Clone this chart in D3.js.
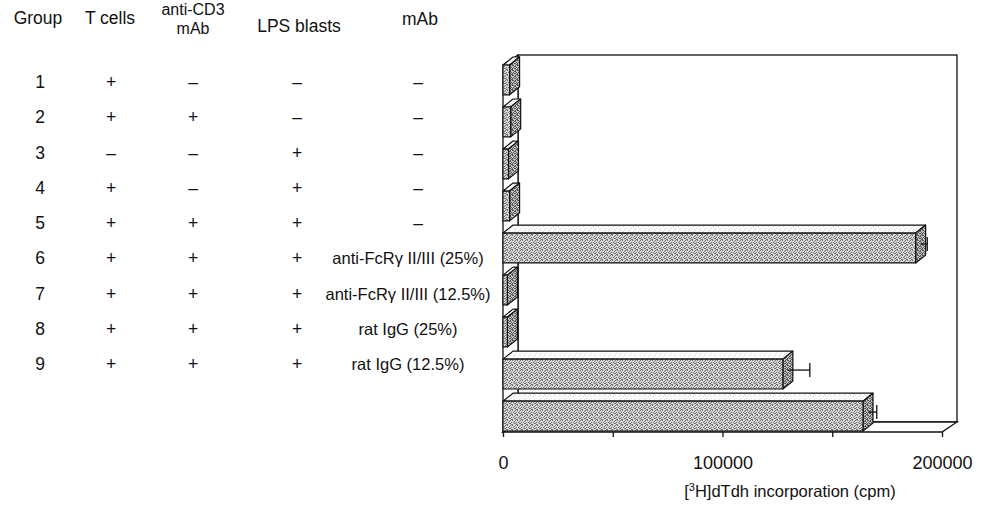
<!DOCTYPE html>
<html>
<head>
<meta charset="utf-8">
<script src="https://cdn.jsdelivr.net/npm/d3@7"></script>
<style>
  body { margin: 0; background: #fff; }
  text { font-family: "Liberation Sans", Arial, sans-serif; fill: #111; }
</style>
</head>
<body>
<div id="chart"></div>
<script>
// table + bar data
var groups    = ["1", "2", "3", "4", "5", "6", "7", "8", "9"];
var tCells    = ["+", "+", "–", "+", "+", "+", "+", "+", "+"];
var antiCD3   = ["–", "+", "–", "–", "+", "+", "+", "+", "+"];
var lpsBlasts = ["–", "–", "+", "+", "+", "+", "+", "+", "+"];
var mAbs      = ["–", "–", "–", "–", "–", "anti-FcRγ II/III (25%)", "anti-FcRγ II/III (12.5%)", "rat IgG (25%)", "rat IgG (12.5%)"];
var cpm       = [3000, 3500, 2500, 3000, 188000, 2000, 2000, 127500, 164000];
var cpmErr    = [0, 0, 0, 0, 3000, 0, 0, 10000, 4000];
var xTicks    = [0, 50000, 100000, 150000, 200000];
var xLabels   = [0, 100000, 200000];

var width = 982, height = 508;

var svg = d3.select("#chart")
  .append("svg")
    .attr("width", width)
    .attr("height", height);

// patterns for the stippled faces (5x5 speckle, irregular)
var defs = svg.append("defs");
function stipple(id, bg, dot, pts) {
  var p = defs.append("pattern").attr("id", id)
      .attr("patternUnits", "userSpaceOnUse").attr("width", 5).attr("height", 5);
  p.append("rect").attr("width", 5).attr("height", 5).attr("fill", bg);
  pts.forEach(function(q) {
    p.append("rect").attr("x", q[0]).attr("y", q[1]).attr("width", 1).attr("height", 1).attr("fill", dot);
  });
}
var speckle = [[0, 0], [2, 0], [4, 1], [1, 2], [3, 2], [0, 3], [4, 3], [2, 4], [1, 4]];
stipple("front", "#d8d8d8", "#707070", speckle);
stipple("side", "#c4c4c4", "#555555", speckle.concat([[3, 0], [0, 1], [2, 3]]));
stipple("top", "#ffffff", "#d4d4d4", [[0, 0], [3, 1], [1, 3], [4, 4]]);

// ---------- left table ----------
var row = d3.scalePoint().domain(groups).range([82, 364]);
var cols = [
  {x: 40,  vals: groups},
  {x: 111, vals: tCells},
  {x: 193, vals: antiCD3},
  {x: 297, vals: lpsBlasts}
];
var fs = "17.5px";

cols.forEach(function(c) {
  svg.append("g").selectAll("text")
    .data(c.vals)
    .enter()
    .append("text")
      .attr("x", c.x)
      .attr("y", function(d, i) { return row(groups[i]) + 6; })
      .attr("text-anchor", "middle")
      .style("font-size", fs)
      .text(function(d) { return d; });
});

svg.append("g").selectAll("text")
  .data(mAbs)
  .enter()
  .append("text")
    .attr("x", function(d) { return d === "–" ? 418 : 408; })
    .attr("y", function(d, i) { return row(groups[i]) + 6; })
    .attr("text-anchor", "middle")
    .style("font-size", function(d) { return d === "–" ? fs : "16.5px"; })
    .text(function(d) { return d; });

// headers
var head = svg.append("g").style("font-size", fs).attr("text-anchor", "middle");
head.append("text").attr("x", 38).attr("y", 24).text("Group");
head.append("text").attr("x", 110).attr("y", 24).text("T cells");
head.append("text").attr("x", 193).attr("y", 15).style("font-size", "16px").text("anti-CD3");
head.append("text").attr("x", 193).attr("y", 34).style("font-size", "16px").text("mAb");
head.append("text").attr("x", 299).attr("y", 32).text("LPS blasts");
head.append("text").attr("x", 420).attr("y", 25).text("mAb");

// ---------- 3D bar chart ----------
var x = d3.scaleLinear().domain([0, 200000]).range([503, 942]);
var y = d3.scaleBand().domain(groups).range([65, 431]).paddingInner(0.29).paddingOuter(0);

var floorY = 432, wallDx = 15, wallDy = -10, topY = 65;
var barDx = 10, barDy = -8;

var frame = svg.append("g")
    .style("fill", "none").style("stroke", "#111").style("stroke-width", 1.3);

// back wall
frame.append("rect")
    .attr("x", x(0) + wallDx).attr("y", topY + wallDy)
    .attr("width", x(200000) - x(0)).attr("height", floorY - topY)
    .style("fill", "#fff");
// left wall
frame.append("path")
    .attr("d", "M" + x(0) + "," + topY + "L" + (x(0) + wallDx) + "," + (topY + wallDy) +
               "L" + (x(0) + wallDx) + "," + (floorY + wallDy) + "L" + x(0) + "," + floorY + "Z")
    .style("fill", "#fff");
// floor
frame.append("path")
    .attr("d", "M" + x(0) + "," + floorY + "L" + x(200000) + "," + floorY +
               "L" + (x(200000) + wallDx) + "," + (floorY + wallDy) +
               "L" + (x(0) + wallDx) + "," + (floorY + wallDy) + "Z")
    .style("fill", "#fff");

// bars
var bars = svg.append("g").selectAll("g")
  .data(groups)
  .enter()
  .append("g")
    .style("stroke", "#111").style("stroke-width", 1.2).style("stroke-linejoin", "round");

bars.append("path")   // top face
    .attr("d", function(d, i) {
      var x0 = x(0), x1 = x(cpm[i]), y0 = y(d);
      return "M" + x0 + "," + y0 + "L" + (x0 + barDx) + "," + (y0 + barDy) +
             "L" + (x1 + barDx) + "," + (y0 + barDy) + "L" + x1 + "," + y0 + "Z";
    })
    .style("fill", "url(#top)");

bars.append("path")   // end face
    .attr("d", function(d, i) {
      var x1 = x(cpm[i]), y0 = y(d), y1 = y(d) + y.bandwidth();
      return "M" + x1 + "," + y0 + "L" + (x1 + barDx) + "," + (y0 + barDy) +
             "L" + (x1 + barDx) + "," + (y1 + barDy) + "L" + x1 + "," + y1 + "Z";
    })
    .style("fill", "url(#side)");

bars.append("rect")   // front face
    .attr("x", x(0))
    .attr("y", function(d) { return y(d); })
    .attr("width", function(d, i) { return x(cpm[i]) - x(0); })
    .attr("height", y.bandwidth())
    .style("fill", "url(#front)");

// error bars
var errs = svg.append("g").style("stroke", "#111").style("stroke-width", 1.3)
  .selectAll("g")
  .data(groups.filter(function(d, i) { return cpmErr[i] > 0; }))
  .enter()
  .append("g");

errs.append("line")
    .attr("x1", function(d) { var i = groups.indexOf(d); return x(cpm[i]) + barDx / 2; })
    .attr("x2", function(d) { var i = groups.indexOf(d); return x(cpm[i] + cpmErr[i]) + barDx / 2; })
    .attr("y1", function(d) { return y(d) + y.bandwidth() / 2 + barDy / 2; })
    .attr("y2", function(d) { return y(d) + y.bandwidth() / 2 + barDy / 2; });
errs.append("line")
    .attr("x1", function(d) { var i = groups.indexOf(d); return x(cpm[i] + cpmErr[i]) + barDx / 2; })
    .attr("x2", function(d) { var i = groups.indexOf(d); return x(cpm[i] + cpmErr[i]) + barDx / 2; })
    .attr("y1", function(d) { return y(d) + y.bandwidth() / 2 + barDy / 2 - 7; })
    .attr("y2", function(d) { return y(d) + y.bandwidth() / 2 + barDy / 2 + 7; });

// x axis
var xAxis = svg.append("g")
    .attr("transform", "translate(0," + floorY + ")")
    .call(d3.axisBottom(x)
      .tickValues(xTicks)
      .tickSize(5)
      .tickFormat(function(d) { return xLabels.indexOf(d) >= 0 ? d : ""; }));
xAxis.select(".domain").remove();
xAxis.selectAll("line").style("stroke", "#111").style("stroke-width", 1.3);
xAxis.selectAll("text")
    .attr("y", 37).attr("dy", 0)
    .style("font-size", "18px")
    .style("font-family", "'Liberation Sans', Arial, sans-serif")
    .style("fill", "#111");

// axis title
var title = svg.append("text")
    .attr("x", 790).attr("y", 497)
    .attr("text-anchor", "middle")
    .style("font-size", "16.5px");
title.append("tspan").text("[");
title.append("tspan").attr("dy", -6).style("font-size", "11px").text("3");
title.append("tspan").attr("dy", 6).text("H]dTdh incorporation (cpm)");
</script>
</body>
</html>
